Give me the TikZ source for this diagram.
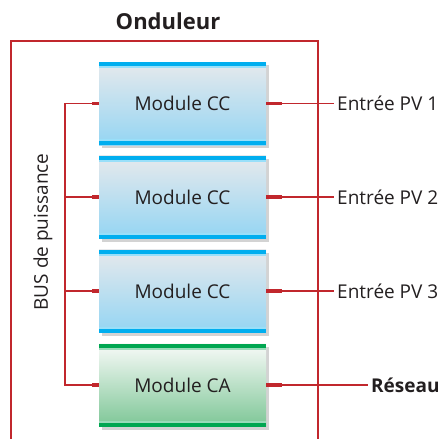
\documentclass[tikz,border=0pt]{standalone}
\usepackage{fontspec}
\setmainfont{Open Sans}
\usetikzlibrary{shadows}
\definecolor{busred}{HTML}{C1272D}
\definecolor{ccband}{HTML}{00AEEF}
\definecolor{cctop}{HTML}{E6E9EC}
\definecolor{ccbot}{HTML}{94D5F3}
\definecolor{caband}{HTML}{00A651}
\definecolor{catop}{HTML}{F8FAF8}
\definecolor{cabot}{HTML}{7DC696}
\definecolor{txt}{HTML}{231F20}

\tikzset{
	module/.style={minimum width=167pt, minimum height=83pt, inner sep=0pt,
		font=\fontsize{19}{22}\selectfont, text=txt,
		drop shadow={opacity=0.35, shadow xshift=3pt, shadow yshift=-3pt}},
	modcc/.style={module, top color=cctop, bottom color=ccbot,
		path picture={
			\fill[ccband] (path picture bounding box.north west) rectangle ([yshift=-4pt]path picture bounding box.north east);
			\fill[ccband!40] ([yshift=-4pt]path picture bounding box.north west) rectangle ([yshift=-6pt]path picture bounding box.north east);
			\fill[ccband] (path picture bounding box.south west) rectangle ([yshift=4pt]path picture bounding box.south east);
			\fill[ccband!40] ([yshift=4pt]path picture bounding box.south west) rectangle ([yshift=6pt]path picture bounding box.south east);}},
	modca/.style={module, top color=catop, bottom color=cabot,
		path picture={
			\fill[caband] (path picture bounding box.north west) rectangle ([yshift=-4pt]path picture bounding box.north east);
			\fill[caband!40] ([yshift=-4pt]path picture bounding box.north west) rectangle ([yshift=-6pt]path picture bounding box.north east);
			\fill[caband] (path picture bounding box.south west) rectangle ([yshift=4pt]path picture bounding box.south east);
			\fill[caband!40] ([yshift=4pt]path picture bounding box.south west) rectangle ([yshift=6pt]path picture bounding box.south east);}},
	wire/.style={draw=busred, line width=1.8pt},
	stub/.style={draw=busred, line width=3.2pt},
	portlabel/.style={anchor=west, inner sep=3pt, text=txt, font=\fontsize{19}{22}\selectfont}
}

\begin{document}
\begin{tikzpicture}[x=1pt, y=-1pt]
	\useasboundingbox (0,0) rectangle (440,439);

	% boitier de l'onduleur
	\draw[wire] (11,439) |- (318,41) -- (318,439);
	\node[text=txt, font=\fontsize{22}{26}\selectfont\bfseries] (titre) at (168,21) {Onduleur};

	% modules
	\node[modcc] (cc1) at (182.5,103.5) {Module CC};
	\node[modcc] (cc2) at (182.5,197) {Module CC};
	\node[modcc] (cc3) at (182.5,291) {Module CC};
	\node[modca] (ca) at (182.5,385) {Module CA};

	% bus de puissance
	\draw[wire] (cc1.west) -- ++(-34,0) |- (ca.west);
	\draw[wire] (cc2.west) -- ++(-34,0);
	\draw[wire] (cc3.west) -- ++(-34,0);
	\foreach \m in {cc1,cc2,cc3,ca}
		\draw[stub] (\m.west) -- ++(-7,0);
	\node[rotate=90, text=txt, font=\fontsize{19}{22}\selectfont] (bus) at (43,232) {BUS de puissance};

	% entrees et sortie
	\node[portlabel] (pv1) at (334,103.5) {Entrée PV 1};
	\node[portlabel] (pv2) at (334,197) {Entrée PV 2};
	\node[portlabel] (pv3) at (334,291) {Entrée PV 3};
	\node[portlabel, font=\fontsize{19}{22}\selectfont\bfseries] (reseau) at (368,385) {Réseau};
	\foreach \m/\p in {cc1/pv1,cc2/pv2,cc3/pv3,ca/reseau}{
		\draw[wire] (\m.east) -- (\p.west);
		\draw[stub] (\m.east) -- ++(16,0);
	}
\end{tikzpicture}
\end{document}
